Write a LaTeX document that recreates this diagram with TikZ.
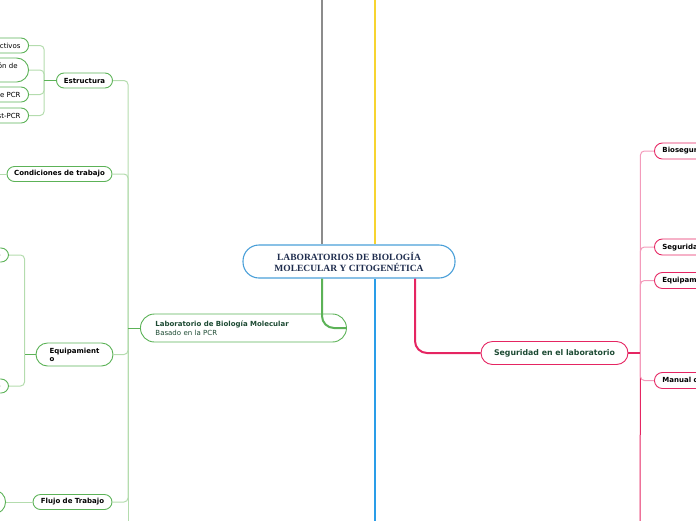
\documentclass[tikz,border=0pt]{standalone}
\usepackage{fontspec}
\newfontfamily\mapsans{DejaVu Sans}
\newfontfamily\mapserif{Liberation Serif}
\usetikzlibrary{calc}
\definecolor{cblue}{HTML}{4A9FD8}
\definecolor{cnavy}{HTML}{1F2D4E}
\definecolor{cgray}{HTML}{8C8C8C}
\definecolor{cyellow}{HTML}{F7D430}
\definecolor{cbluel}{HTML}{2A9DE8}
\definecolor{cgreen}{HTML}{5CB257}
\definecolor{cgreenl}{HTML}{B4DCAE}
\definecolor{cgreent}{HTML}{1D4A33}
\definecolor{cpink}{HTML}{E52562}
\definecolor{cpinkl}{HTML}{F39BBB}

\begin{document}
\begin{tikzpicture}[x=1pt, y=-1pt,
    central/.style={draw=cblue, line width=1.1pt, rounded corners=16pt, minimum width=212pt, minimum height=33pt, align=center, text=cnavy, font=\mapserif\fontsize{9.5}{11}\selectfont\bfseries},
    topicg/.style={draw=cgreen, line width=0.9pt, rounded corners=14pt, minimum height=28pt, inner xsep=15pt, text width=176pt, align=left, text=cgreent, font=\mapsans\fontsize{7}{8.5}\selectfont},
    topicp/.style={draw=cpink, line width=0.9pt, rounded corners=11.5pt, minimum width=147pt, minimum height=23pt, text=cgreent, font=\mapsans\fontsize{7.8}{9}\selectfont\bfseries},
    subg/.style={draw=cgreen, line width=0.9pt, rounded corners=7.5pt, minimum height=15pt, inner ysep=1pt, align=left, font=\mapsans\fontsize{7}{8}\selectfont\bfseries},
    leafg/.style={draw=cgreen, line width=0.9pt, rounded corners=7.5pt, minimum height=15pt, inner xsep=8pt, inner ysep=1pt, align=left, font=\mapsans\fontsize{7}{9}\selectfont},
    subp/.style={draw=cpink, line width=0.9pt, rounded corners=8pt, minimum height=16pt, inner xsep=8pt, inner ysep=1pt, font=\mapsans\fontsize{7}{8}\selectfont\bfseries},
    trunk/.style={line width=2.6pt},
    linkg/.style={draw=cgreenl, line width=1pt, rounded corners=4pt},
    linkp/.style={draw=cpinkl, line width=1pt, rounded corners=4pt},
]
\useasboundingbox (0,0) rectangle (696,520);
\clip (0,0) rectangle (696,520);

% nodos principales
\node[central] (central) at (349,261.5) {LABORATORIOS DE BIOLOGÍA\\MOLECULAR Y CITOGENÉTICA};
\node[topicg, anchor=west] (lab) at (140,328) {\textbf{Laboratorio de Biología Molecular}\\Basado en la PCR};
\node[topicp] (seg) at (554.5,353) {Seguridad en el laboratorio};

% rama izquierda
\node[subg, minimum width=56pt] (estr) at (84.5,80.5) {Estructura};
\node[subg, minimum width=105pt] (cond) at (59.5,174) {Condiciones de trabajo};
\node[subg, minimum width=77pt, minimum height=23pt, rounded corners=11.5pt] (equi) at (74.5,354.5) {Equipamient\\o};
\node[subg, minimum width=79pt] (fluj) at (72.5,502) {Flujo de Trabajo};

\node[leafg, anchor=east] (reac) at (29,45.5) {Reactivos};
\node[leafg, anchor=east, minimum height=24pt, rounded corners=12pt, inner xsep=11pt] (prep) at (29,70) {Zona de preparación de\\reactivos};
\node[leafg, anchor=east] (apcr) at (29,94.5) {Área de PCR};
\node[leafg, anchor=east] (post) at (29,115.5) {Área post-PCR};

\node[leafg, anchor=east, minimum height=14pt] (eqba) at (9,255) {Equipo básico};
\node[leafg, anchor=east, minimum height=14pt] (eqes) at (9,386) {Equipo específico};
\node[leafg, anchor=east, minimum height=24pt, rounded corners=12pt] (pasos) at (6,502) {Pasos del\\proceso};

% rama derecha
\node[subp, anchor=west] (bios) at (654,151) {Bioseguridad};
\node[subp, anchor=west] (sqim) at (654,247) {Seguridad química};
\node[subp, anchor=west] (epp) at (654,280.5) {Equipamiento};
\node[subp, anchor=west] (manu) at (654,380.5) {Manual de procedimientos};

% ramas del nodo central
\coordinate (gtop) at (322,-10);
\coordinate (ytop) at (375,-10);
\coordinate (bbot) at (375,530);
\draw[trunk, cgray] (gtop) -- (gtop |- central.north);
\draw[trunk, cyellow] (ytop) -- (ytop |- central.north);
\draw[trunk, cbluel] (bbot) -- (bbot |- central.south);
\draw[cgreen, line width=2pt, rounded corners=12pt] (central.south -| gtop) |- (lab.east);
\draw[cpink, line width=2pt, rounded corners=12pt] ($(central.south)+(66,0)$) |- (seg.west);

% conectores verdes
\coordinate (labj) at ($(lab.west)+(-12,0)$);
\coordinate (labbot) at (128,530);
\draw[linkg] (labj) -- (labbot);
\foreach \n in {estr,cond,equi,fluj}
  \draw[linkg] (\n.east) -| (labj);
\draw[cgreen, line width=1pt] (lab.west) -- (labj);

\coordinate (estrj) at ($(estr.west)+(-12,0)$);
\foreach \n in {reac,prep,apcr,post}
  \draw[linkg] (\n.east) -| (estrj);
\draw[cgreen, line width=1pt] (estr.west) -- (estrj);

\coordinate (equij) at ($(equi.west)+(-11,0)$);
\foreach \n in {eqba,eqes}
  \draw[linkg] (\n.east) -| (equij);
\draw[cgreen, line width=1pt] (equi.west) -- (equij);

\coordinate (condout) at (-10,174);
\draw[linkg] (cond.west) -- (condout);
\draw[linkg] (pasos.east) -- (fluj.west);

% conectores rosas
\coordinate (segj) at ($(seg.east)+(12,0)$);
\coordinate (segbot) at (640,530);
\draw[cpink, line width=1pt] (segj) -- (segbot);
\foreach \n in {bios,sqim,epp,manu}
  \draw[linkp] (\n.west) -| (segj);
\draw[cpink, line width=1.2pt] (seg.east) -- (segj);
\end{tikzpicture}
\end{document}
